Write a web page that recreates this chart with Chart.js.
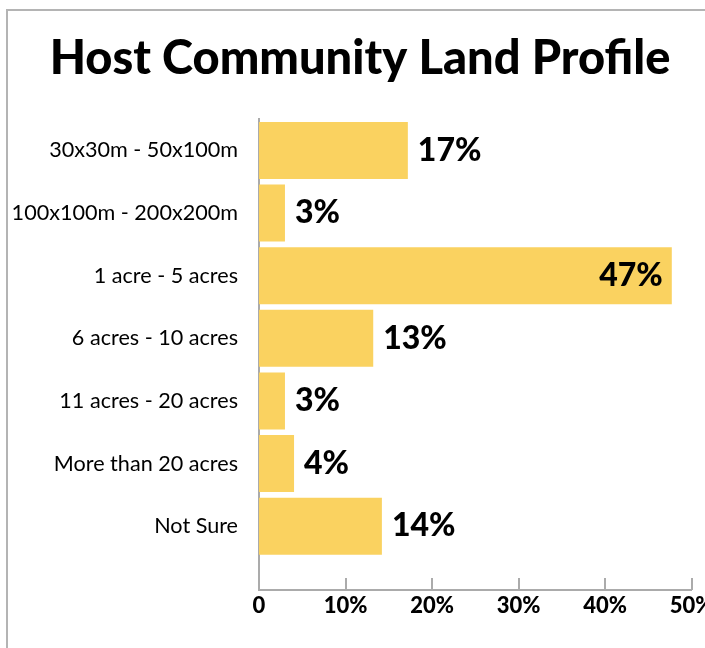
<!DOCTYPE html>
<html>
<head>
<meta charset="utf-8">
<script src="https://cdn.jsdelivr.net/npm/chart.js@4/dist/chart.umd.min.js"></script>
<style>
  html, body { margin: 0; padding: 0; background: #fff; overflow: hidden; width: 705px; height: 648px; }
  #frame { position: absolute; left: 6px; top: 9px; width: 760px; height: 700px;
           border-left: 2px solid #b4b4b4; border-top: 2px solid #b4b4b4; pointer-events: none; }
  #wrap { position: absolute; left: 0; top: 0; width: 720px; height: 648px; }
</style>
</head>
<body>
<div id="wrap"><canvas id="c" width="720" height="648"></canvas></div>
<div id="frame"></div>
<script>
const categories = ["30x30m - 50x100m", "100x100m - 200x200m", "1 acre - 5 acres", "6 acres - 10 acres", "11 acres - 20 acres", "More than 20 acres", "Not Sure"];
const values = [17.2, 3.0, 47.7, 13.2, 3.0, 4.05, 14.2];
const valueLabels = ["17%", "3%", "47%", "13%", "3%", "4%", "14%"];
const xTicks = [0, 10, 20, 30, 40, 50];
const xTickLabels = ["0", "10%", "20%", "30%", "40%", "50%"];

const FONT = "Lato, 'Open Sans', sans-serif";
const AXIS_COLOR = "#ababab";

const valueLabelPlugin = {
  id: 'valueLabels',
  afterDatasetsDraw(chart) {
    const ctx = chart.ctx;
    const meta = chart.getDatasetMeta(0);
    ctx.save();
    ctx.font = "900 32px " + FONT;
    ctx.fillStyle = "#000";
    ctx.textBaseline = "middle";
    meta.data.forEach((bar, i) => {
      const txt = valueLabels[i];
      const w = ctx.measureText(txt).width;
      if (bar.x + 10 + w > chart.chartArea.right) {
        ctx.textAlign = "right";
        ctx.fillText(txt, bar.x - 9, bar.y);
      } else {
        ctx.textAlign = "left";
        ctx.fillText(txt, bar.x + 10, bar.y);
      }
    });
    ctx.restore();
  }
};

const innerTicksPlugin = {
  id: 'innerTicks',
  beforeDatasetsDraw(chart) {
    const ctx = chart.ctx;
    const xs = chart.scales.x;
    const bottom = chart.chartArea.bottom;
    ctx.save();
    ctx.strokeStyle = AXIS_COLOR;
    ctx.lineWidth = 2;
    xTicks.forEach(v => {
      if (v === 0) return;
      const px = Math.round(xs.getPixelForValue(v));
      ctx.beginPath();
      ctx.moveTo(px, bottom - 12);
      ctx.lineTo(px, bottom);
      ctx.stroke();
    });
    ctx.restore();
  }
};

new Chart(document.getElementById('c'), {
  type: 'bar',
  data: {
    datasets: [{
      data: values.map((v, i) => ({ x: v, y: i })),
      backgroundColor: "#fad260",
      borderWidth: 0,
      categoryPercentage: 1.0,
      barPercentage: 0.91
    }]
  },
  options: {
    indexAxis: 'y',
    responsive: false,
    animation: false,
    events: [],
    layout: { padding: 0 },
    plugins: {
      legend: { display: false },
      tooltip: { enabled: false },
      title: {
        display: true,
        text: "Host Community Land Profile",
        color: "#000",
        font: { family: FONT, size: 47, weight: '900', lineHeight: 1.2 },
        padding: { top: 31, bottom: 31.8 }
      }
    },
    scales: {
      y: {
        type: 'linear',
        reverse: true,
        offset: false,
        min: -0.5,
        max: 7.02,
        afterBuildTicks: s => { s.ticks = categories.map((_, i) => ({ value: i })); },
        afterFit: s => { s.width = 259; },
        grid: { display: false, drawTicks: false },
        border: { display: true, color: AXIS_COLOR, width: 2 },
        ticks: {
          autoSkip: false,
          padding: 21,
          color: "#000",
          font: { family: FONT, size: 21.6 },
          callback: v => categories[v]
        }
      },
      x: {
        type: 'linear',
        min: 0,
        max: 50,
        afterBuildTicks: s => { s.ticks = xTicks.map(v => ({ value: v })); },
        afterFit: s => { s.height = 58; s.paddingRight = 720 - 691.7; },
        grid: { display: false, drawTicks: false },
        border: { display: true, color: AXIS_COLOR, width: 2 },
        ticks: {
          autoSkip: false,
          maxRotation: 0,
          padding: 3,
          color: "#000",
          font: { family: FONT, size: 22, weight: '900' },
          callback: (v) => xTickLabels[xTicks.indexOf(v)]
        }
      }
    }
  },
  plugins: [valueLabelPlugin, innerTicksPlugin]
});
</script>
</body>
</html>
